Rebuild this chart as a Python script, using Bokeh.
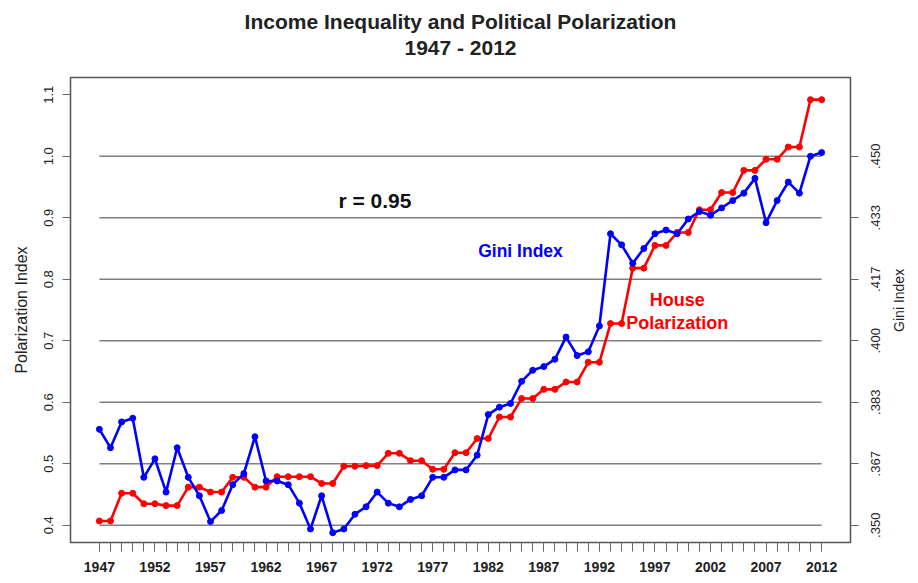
import math
from bokeh.plotting import figure
from bokeh.models import (Range1d, LinearAxis, FixedTicker, PrintfTickFormatter,
                          CustomJSTickFormatter, CustomLabelingPolicy, Label, Title)
from bokeh.embed import file_html
from bokeh.resources import INLINE

# ---------------- data ----------------
years = list(range(1947, 2013))

gini_index = [0.376, 0.371, 0.378, 0.379, 0.363, 0.368, 0.359, 0.371, 0.363, 0.358,
              0.351, 0.354, 0.361, 0.364, 0.374, 0.362, 0.362, 0.361, 0.356, 0.349,
              0.358, 0.348, 0.349, 0.353, 0.355, 0.359, 0.356, 0.355, 0.357, 0.358,
              0.363, 0.363, 0.365, 0.365, 0.369, 0.380, 0.382, 0.383, 0.389, 0.392,
              0.393, 0.395, 0.401, 0.396, 0.397, 0.404, 0.429, 0.426, 0.421, 0.425,
              0.429, 0.430, 0.429, 0.433, 0.435, 0.434, 0.436, 0.438, 0.440, 0.444,
              0.432, 0.438, 0.443, 0.440, 0.450, 0.451]

house_polarization = [0.407, 0.407, 0.452, 0.452, 0.435, 0.435, 0.432, 0.432, 0.462, 0.462,
                      0.454, 0.454, 0.478, 0.478, 0.462, 0.462, 0.479, 0.479, 0.479, 0.479,
                      0.468, 0.468, 0.496, 0.496, 0.497, 0.497, 0.517, 0.517, 0.505, 0.505,
                      0.491, 0.491, 0.518, 0.518, 0.541, 0.541, 0.576, 0.576, 0.606, 0.606,
                      0.621, 0.621, 0.633, 0.633, 0.665, 0.665, 0.728, 0.728, 0.818, 0.818,
                      0.855, 0.855, 0.876, 0.876, 0.913, 0.913, 0.941, 0.941, 0.977, 0.977,
                      0.995, 0.995, 1.015, 1.015, 1.092, 1.092]

x_label_years = [1947, 1952, 1957, 1962, 1967, 1972, 1977, 1982, 1987, 1992, 1997, 2002, 2007, 2012]
polarization_ticks = [0.4, 0.5, 0.6, 0.7, 0.8, 0.9, 1.0, 1.1]
gini_ticks = [0.350, 0.36667, 0.38333, 0.400, 0.41667, 0.43333, 0.450]

title_text = "Income Inequality and Political Polarization"
subtitle_text = "1947 - 2012"
right_title = "Gini Index"

# mapping between the two vertical scales: polarization 0.4 <-> gini .350, 1.0 <-> .450
POL_LO, POL_HI = 0.4, 1.0
GINI_LO, GINI_HI = 0.350, 0.450
x_range = (1944.4, 2014.6)
pol_range = (0.372, 1.128)


def pol_to_gini(v):
    return GINI_LO + (v - POL_LO) * (GINI_HI - GINI_LO) / (POL_HI - POL_LO)


FONT = "Liberation Sans"

p = figure(width=918, height=583,
           x_range=Range1d(*x_range),
           y_range=Range1d(*pol_range),
           output_backend="svg", toolbar_location=None,
           min_border_left=70, min_border_right=68,
           min_border_top=77, min_border_bottom=41,
           background_fill_color="white", border_fill_color="white")

p.extra_y_ranges = {"gini": Range1d(pol_to_gini(pol_range[0]), pol_to_gini(pol_range[1]))}

p.xgrid.visible = False
p.ygrid.visible = False
p.outline_line_color = "#555555"
p.outline_line_width = 1.5

# bottom x axis (the figure's own axis below the frame)
xa = p.below[0]
xa.ticker = FixedTicker(ticks=x_label_years, minor_ticks=years)
xa.formatter = PrintfTickFormatter(format="%d")
xa.axis_line_color = None
xa.major_tick_in = 0
xa.major_tick_out = 9
xa.minor_tick_in = 0
xa.minor_tick_out = 9
xa.major_tick_line_color = "#666666"
xa.minor_tick_line_color = "#666666"
xa.major_label_text_font = FONT
xa.major_label_text_font_size = "14px"
xa.major_label_text_font_style = "bold"
xa.major_label_text_color = "#222222"
xa.major_label_standoff = 10

# left axis (the figure's own axis left of the frame)
ya = p.left[0]
ya.ticker = FixedTicker(ticks=polarization_ticks)
ya.formatter = PrintfTickFormatter(format="%.1f")
ya.axis_line_color = None
ya.major_tick_in = 0
ya.major_tick_out = 8
ya.minor_tick_line_color = None
ya.major_tick_line_color = "#666666"
ya.major_label_orientation = "parallel"
ya.major_label_text_font = FONT
ya.major_label_text_font_size = "13px"
ya.major_label_text_color = "#222222"
ya.major_label_standoff = 9
ya.axis_label = "Polarization Index"
ya.axis_label_text_font = FONT
ya.axis_label_text_font_size = "16px"
ya.axis_label_text_font_style = "normal"
ya.axis_label_text_color = "#222222"
ya.axis_label_standoff = 12


# titles, stacked outward from the frame (blank spacers set the vertical placement)
def title(text, size, standoff, style="bold"):
    p.add_layout(Title(text=text, align="center", text_font=FONT, text_font_size=size,
                       text_font_style=style, text_color="#222222", standoff=standoff), "above")


title(" ", "1px", 15)
title(subtitle_text, "21px", 2)
title(title_text, "21px", 0)
title(" ", "1px", 4)

# right side: tick marks only, at the Gini values (no labels drawn)
no_labels = CustomLabelingPolicy(code="""
try { for (const i of Array.from(indices)) { indices.unset(i) } } catch (e) {}
return indices
""")
r_ticks = LinearAxis(y_range_name="gini", ticker=FixedTicker(ticks=gini_ticks),
                     major_label_policy=no_labels)
r_ticks.axis_line_color = None
r_ticks.major_tick_in = 0
r_ticks.major_tick_out = 8
r_ticks.minor_tick_line_color = None
r_ticks.major_tick_line_color = "#666666"
r_ticks.major_label_text_font_size = "0px"
r_ticks.major_label_standoff = 0
p.add_layout(r_ticks, "right")

# right side: Gini tick labels, reading bottom to top, centred on the tick marks
HALF_LABEL = 0.00343  # half the length of a rotated label, in Gini units
r_labels = LinearAxis(y_range_name="gini",
                      ticker=FixedTicker(ticks=[g - HALF_LABEL for g in gini_ticks]),
                      formatter=CustomJSTickFormatter(
                          args=dict(half=HALF_LABEL),
                          code='return "." + Math.round((tick + half) * 1000).toString();'))
r_labels.axis_line_color = None
r_labels.major_tick_in = 0
r_labels.major_tick_out = 0
r_labels.major_tick_line_color = None
r_labels.minor_tick_line_color = None
r_labels.major_label_orientation = math.pi / 2
r_labels.major_label_text_font = FONT
r_labels.major_label_text_font_size = "13px"
r_labels.major_label_text_color = "#222222"
r_labels.major_label_standoff = 17
p.add_layout(r_labels, "right")

# right side: axis title, reading bottom to top
r_title = LinearAxis(y_range_name="gini",
                     ticker=FixedTicker(ticks=[0.4024]),
                     formatter=CustomJSTickFormatter(args=dict(t=right_title), code="return t;"))
r_title.axis_line_color = None
r_title.major_tick_in = 0
r_title.major_tick_out = 0
r_title.major_tick_line_color = None
r_title.minor_tick_line_color = None
r_title.major_label_orientation = math.pi / 2
r_title.major_label_text_font = FONT
r_title.major_label_text_font_size = "14px"
r_title.major_label_text_color = "#222222"
r_title.major_label_standoff = 12
p.add_layout(r_title, "right")

# horizontal reference lines at the Gini ticks, spanning the data years
p.segment(x0=years[0], x1=years[-1], y0=gini_ticks, y1=gini_ticks,
          y_range_name="gini", line_color="#808080", line_width=1.6)

# series
p.line(years, house_polarization, line_color="#ff0000", line_width=2.6)
p.scatter(years, house_polarization, marker="circle", size=6,
          fill_color="#ff0000", line_color="#ff0000")

p.line(years, gini_index, y_range_name="gini", line_color="#0000ff", line_width=2.6)
p.scatter(years, gini_index, y_range_name="gini", marker="circle", size=6,
          fill_color="#0000ff", line_color="#0000ff")


def label(x, y, text, size, color, style="bold"):
    p.add_layout(Label(x=x, y=y, text=text, text_align="center", text_baseline="middle",
                       text_font=FONT, text_font_size=size,
                       text_font_style=style, text_color=color))


# annotations inside the plot
label(1971.8, 0.928, "r = 0.95", "21px", "#111111")
label(1984.9, 0.846, "Gini Index", "17.5px", "#0000ff")
label(1999.0, 0.766, "House", "18px", "#ff0000")
label(1999.0, 0.729, "Polarization", "18px", "#ff0000")

open("out.html", "w").write(file_html(p, INLINE))
